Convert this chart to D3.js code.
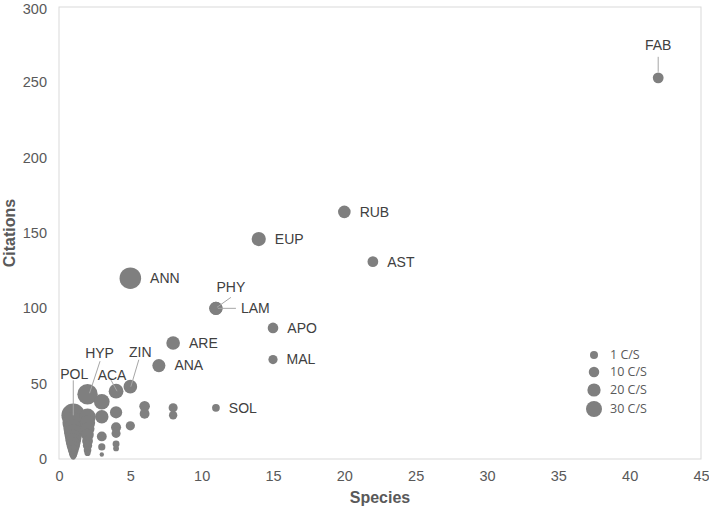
<!DOCTYPE html>
<html>
<head>
<meta charset="utf-8">
<script src="https://cdn.jsdelivr.net/npm/d3@7"></script>
<style>
  html, body { margin: 0; padding: 0; background: #fff; }
  svg { display: block; }
</style>
</head>
<body>
<svg id="chart" width="709" height="510"></svg>
<script>
// ---- data ----
const names     = ["FAB","RUB","EUP","AST","ANN","PHY","LAM","APO","ARE","MAL","ANA","ZIN","ACA","HYP","SOL","POL",
                   "","","","","","","","","","","","",
                   "","","","","","","","",
                   "","","","","",
                   "","","","","",
                   "",
                   "","",
                   "",""];
const species   = [42,20,14,22,5,11,11,15,8,15,7,5,4,2,11,1,
                   1,1,1,1,1,1,1,1,1,1,1,1,
                   2,2,2,2,2,2,2,2,
                   3,3,3,3,3,
                   4,4,4,4,4,
                   5,
                   6,6,
                   8,8];
const citations = [253,164,146,131,120,100,100,87,77,66,62,48,45,43,34,29,
                   24,20,17,14,12,10,8,6,4,3,2,1,
                   28,24,20,16,12,9,6,4,
                   38,28,15,8,3,
                   31,21,17,10,7,
                   22,
                   35,30,
                   34,29];
const xTicks = [0,5,10,15,20,25,30,35,40,45];
const yTicks = [0,50,100,150,200,250,300];
const legendValues = [1,10,20,30];
const legendLabels = ["1 C/S","10 C/S","20 C/S","30 C/S"];

// ---- label layout (pixel offsets from the bubble) ----
const labelLayout = {
  FAB: {dx: 0,  dy: -33, anchor: "middle", line: [0,-21, 0,-6]},
  PHY: {dx: 15, dy: -21, anchor: "middle", line: [1,-1, 15,-11]},
  LAM: {dx: 25, dy: 0,   anchor: "start",  line: [2,0, 20,0]},
  POL: {dx: 1,  dy: -41, anchor: "middle", line: [0,-35, 0,0]},
  HYP: {dx: 12, dy: -41, anchor: "middle", line: [12.5,-33, 2,-1]},
  ACA: {dx: -4, dy: -16, anchor: "middle", line: [-5,-11, 1,0]},
  ZIN: {dx: 10, dy: -35, anchor: "middle", line: [8.5,-27, 0.5,0]}
};

const W = 709, H = 510;
const m = {left: 59, right: 8, top: 7, bottom: 51};
const svg = d3.select("#chart");
const x = d3.scaleLinear().domain([0,45]).range([m.left, W - m.right]);
const y = d3.scaleLinear().domain([0,300]).range([H - m.bottom, m.top]);
const r = d3.scaleSqrt().domain([0,30]).range([0, 2.2*Math.sqrt(30)]);

const gray = "#7f7f7f", textCol = "#404040", tickCol = "#595959", frame = "#d9d9d9", leader = "#a6a6a6";
const font = "'Liberation Sans', Arial, sans-serif";

// plot frame
svg.append("rect")
  .attr("x", x(0)).attr("y", y(300))
  .attr("width", x(45) - x(0)).attr("height", y(0) - y(300))
  .attr("fill", "none").attr("stroke", frame).attr("stroke-width", 1);

// axes
const xAxis = svg.append("g").attr("transform", `translate(0,${y(0)})`)
  .call(d3.axisBottom(x).tickValues(xTicks).tickSize(0).tickPadding(12));
const yAxis = svg.append("g").attr("transform", `translate(${x(0)},0)`)
  .call(d3.axisLeft(y).tickValues(yTicks).tickSize(0).tickPadding(12));
[xAxis, yAxis].forEach(a => {
  a.select(".domain").remove();
  a.selectAll("text").attr("fill", tickCol).style("font-family", font).style("font-size", "14.5px");
});
yAxis.selectAll("text").filter(d => d === 300).attr("dy", "0.45em");

// axis titles
svg.append("text").attr("x", (x(0)+x(45))/2).attr("y", 503)
  .attr("text-anchor", "middle").attr("fill", tickCol)
  .style("font-family", font).style("font-size", "16px").style("font-weight", "bold")
  .text("Species");
svg.append("text").attr("transform", `translate(15,${(y(0)+y(300))/2}) rotate(-90)`)
  .attr("text-anchor", "middle").attr("fill", tickCol)
  .style("font-family", font).style("font-size", "16px").style("font-weight", "bold")
  .text("Citations");

// data
const data = names.map((n,i) => ({name: n, s: species[i], c: citations[i], cs: citations[i]/species[i]}));

svg.append("g").selectAll("circle").data(data).join("circle")
  .attr("cx", d => x(d.s)).attr("cy", d => y(d.c)).attr("r", d => r(d.cs))
  .attr("fill", gray);

// leader lines + labels
const labeled = data.filter(d => d.name);
const lg = svg.append("g");
labeled.forEach(d => {
  const px = x(d.s), py = y(d.c), rad = r(d.cs);
  const L = labelLayout[d.name];
  if (L) {
    lg.append("line")
      .attr("x1", px + L.line[0]).attr("y1", py + L.line[1])
      .attr("x2", px + L.line[2]).attr("y2", py + L.line[3])
      .attr("stroke", leader).attr("stroke-width", 1);
    lg.append("text").attr("x", px + L.dx).attr("y", py + L.dy).attr("dy", "0.35em")
      .attr("text-anchor", L.anchor).attr("fill", textCol)
      .style("font-family", font).style("font-size", "14px").text(d.name);
  } else {
    lg.append("text").attr("x", px + rad + 9).attr("y", py).attr("dy", "0.35em")
      .attr("text-anchor", "start").attr("fill", textCol)
      .style("font-family", font).style("font-size", "14px").text(d.name);
  }
});

// legend
const lr = d3.scaleLinear().domain([1,30]).range([4,8]);
const legY = [355, 372, 390, 409];
const leg = svg.append("g");
legendValues.forEach((v,i) => {
  leg.append("circle").attr("cx", 594).attr("cy", legY[i]).attr("r", lr(v)).attr("fill", gray);
  leg.append("text").attr("x", 610).attr("y", legY[i]).attr("dy", "0.35em")
    .attr("fill", tickCol).style("font-family", "'Open Sans', sans-serif").style("font-size", "12.5px")
    .text(legendLabels[i]);
});
</script>
</body>
</html>
